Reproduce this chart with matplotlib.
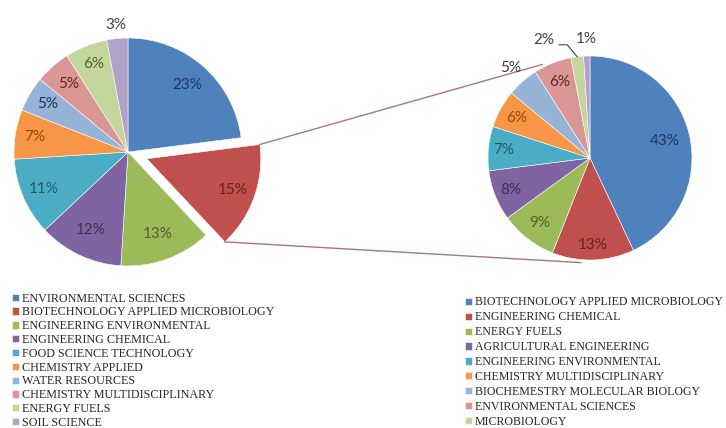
import numpy as np
import matplotlib.pyplot as plt

# subject categories, main pie
left_labels = ["ENVIRONMENTAL SCIENCES", "BIOTECHNOLOGY APPLIED MICROBIOLOGY",
               "ENGINEERING ENVIRONMENTAL", "ENGINEERING CHEMICAL",
               "FOOD SCIENCE TECHNOLOGY", "CHEMISTRY APPLIED", "WATER RESOURCES",
               "CHEMISTRY MULTIDISCIPLINARY", "ENERGY FUELS", "SOIL SCIENCE"]
left_values = [23, 15, 13, 12, 11, 7, 5, 5, 6, 3]

# breakdown of the exploded slice
right_labels = ["BIOTECHNOLOGY APPLIED MICROBIOLOGY", "ENGINEERING CHEMICAL",
                "ENERGY FUELS", "AGRICULTURAL ENGINEERING",
                "ENGINEERING ENVIRONMENTAL", "CHEMISTRY MULTIDISCIPLINARY",
                "BIOCHEMESTRY MOLECULAR BIOLOGY", "ENVIRONMENTAL SCIENCES",
                "MICROBIOLOGY"]
right_values = [43, 13, 9, 8, 7, 6, 5, 6, 2, 1]

colors = ["#4F81BD", "#C0504D", "#9BBB59", "#8064A2", "#4BACC6", "#F79646",
          "#95B3D7", "#D99694", "#C3D69B", "#B3A2C7"]
text_colors = ["#1F3864", "#632523", "#4F6228", "#3F3151", "#205867", "#974806",
               "#17365D", "#632523", "#4F6228", "#404040"]

W, H = 726, 428
fig = plt.figure(figsize=(W / 100, H / 100), dpi=100)
ax = fig.add_axes([0, 0, 1, 1])

lc, lr = (128, H - 152), 114
rc, rr = (590, H - 158), 102

# explode offset is in data units here (pixels)
explode = [0, 20, 0, 0, 0, 0, 0, 0, 0, 0]
lw, _ = ax.pie(left_values, colors=colors, startangle=90, counterclock=False,
               center=lc, radius=lr, explode=explode,
               wedgeprops=dict(edgecolor="white", linewidth=0.4), frame=True)
rw, _ = ax.pie(right_values, colors=colors, startangle=90, counterclock=False,
               center=rc, radius=rr,
               wedgeprops=dict(edgecolor="white", linewidth=0.4), frame=True)
ax.set_xlim(0, W)
ax.set_ylim(0, H)
ax.set_aspect("equal")
ax.axis("off")

pct_font = dict(family="Lato", fontsize=11, ha="center", va="center")

def label_pie(wedges, values, radius, dist, tcols, shifts=None):
    for i, (w, v) in enumerate(zip(wedges, values)):
        mid = np.deg2rad((w.theta1 + w.theta2) / 2 + (shifts[i] if shifts else 0))
        cx, cy = w.center
        r = radius * dist[i]
        ax.text(cx + r * np.cos(mid), cy + r * np.sin(mid), f"{v}%",
                color=tcols[i], **pct_font)

left_dist = [0.78, 0.8, 0.76, 0.76, 0.81, 0.83, 0.82, 0.79, 0.83, 1.12]
label_pie(lw, left_values, lr, left_dist, text_colors)

right_dist = [0.75, 0.85, 0.81, 0.84, 0.85, 0.82, 1.18, 0.8, 1.24, 1.17]
right_tc = text_colors[:6] + ["#404040", "#632523", "#404040", "#404040"]
right_shift = [0, 0, 0, 0, 0, 0, 0, 0, 14, 0]
label_pie(rw, right_values, rr, right_dist, right_tc, right_shift)

# leader line for the 2% slice
w2 = rw[8]
a2 = np.deg2rad((w2.theta1 + w2.theta2) / 2)
px, py = rc[0] + rr * np.cos(a2), rc[1] + rr * np.sin(a2)
ax.plot([px, px - 10, px - 18], [py, py + 12, py + 12], color="#404040", lw=0.8)

# connector lines from the exploded slice to the second pie
red = lw[1]
ecx, ecy = red.center
for a_src, a_dst in [(red.theta2, 117), (red.theta1, 265)]:
    x0 = ecx + lr * np.cos(np.deg2rad(a_src))
    y0 = ecy + lr * np.sin(np.deg2rad(a_src))
    x1 = rc[0] + (rr + 3) * np.cos(np.deg2rad(a_dst))
    y1 = rc[1] + (rr + 3) * np.sin(np.deg2rad(a_dst))
    ax.plot([x0, x1], [y0, y1], color="#A87878", lw=1.0)

leg_kw = dict(loc="upper left", frameon=False, borderpad=0,
              handlelength=0.55, handleheight=0.55, handletextpad=0.25,
              labelcolor="#262626")
leg1 = ax.legend(lw, left_labels, bbox_to_anchor=(6 / W, 1 - 286.5 / H),
                 prop=dict(family="Liberation Serif", size=8.7),
                 labelspacing=0.15, **leg_kw)
ax.add_artist(leg1)
ax.legend(rw[:9], right_labels, bbox_to_anchor=(459 / W, 1 - 290.5 / H),
          prop=dict(family="Liberation Serif", size=8.6),
          labelspacing=0.245, **leg_kw)

fig.savefig("out.png", dpi=100)
